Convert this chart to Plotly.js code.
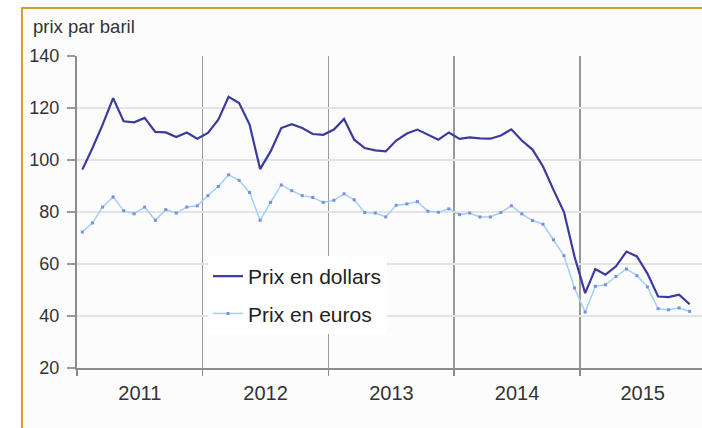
<!DOCTYPE html>
<html>
<head>
<meta charset="utf-8">
<script src="https://cdn.plot.ly/plotly-3.0.1.min.js"></script>
<style>
  html, body { margin: 0; padding: 0; background: #ffffff; }
  #wrap { position: relative; width: 702px; height: 428px; overflow: hidden; }
  #frame { position: absolute; left: 21px; top: 7px; width: 800px; height: 500px;
           border-left: 2px solid #cfa32a; border-top: 2px solid #cfa32a; background: #fcfcfc; }
  #chart { position: absolute; left: 0; top: 0; width: 702px; height: 428px; }
</style>
</head>
<body>
<div id="wrap">
  <div id="frame"></div>
  <div id="chart"></div>
</div>
<script>
// Months (Jan 2011 .. Nov 2015)
const months = [
  "2011-01","2011-02","2011-03","2011-04","2011-05","2011-06","2011-07","2011-08","2011-09","2011-10","2011-11","2011-12",
  "2012-01","2012-02","2012-03","2012-04","2012-05","2012-06","2012-07","2012-08","2012-09","2012-10","2012-11","2012-12",
  "2013-01","2013-02","2013-03","2013-04","2013-05","2013-06","2013-07","2013-08","2013-09","2013-10","2013-11","2013-12",
  "2014-01","2014-02","2014-03","2014-04","2014-05","2014-06","2014-07","2014-08","2014-09","2014-10","2014-11","2014-12",
  "2015-01","2015-02","2015-03","2015-04","2015-05","2015-06","2015-07","2015-08","2015-09","2015-10","2015-11"
];

// Prix en dollars (par baril)
const prixDollars = [
  96.3, 104.6, 113.6, 123.8, 114.9, 114.5, 116.2, 110.8, 110.6, 108.8, 110.6, 108.2,
  110.4, 115.5, 124.3, 121.9, 113.6, 96.5, 103.3, 112.3, 113.8, 112.3, 110.0, 109.7,
  111.7, 115.8, 107.8, 104.6, 103.7, 103.3, 107.5, 110.2, 111.7, 109.7, 107.8, 110.6,
  108.1, 108.7, 108.3, 108.2, 109.4, 111.8, 107.5, 104.0, 97.5, 88.5, 80.0, 62.9,
  48.8, 58.1, 55.9, 59.1, 64.8, 62.9, 56.3, 47.5, 47.3, 48.2, 44.5
];

// Prix en euros (par baril)
const prixEuros = [
  72.3, 75.8, 81.9, 85.8, 80.5, 79.3, 81.9, 76.8, 80.9, 79.6, 81.9, 82.4,
  86.3, 89.8, 94.3, 92.2, 87.5, 76.8, 83.7, 90.4, 88.2, 86.3, 85.6, 83.7,
  84.5, 87.0, 84.7, 79.8, 79.6, 78.1, 82.6, 83.1, 84.0, 80.3, 79.9, 81.2,
  79.0, 79.6, 78.1, 78.1, 79.8, 82.4, 79.3, 76.7, 75.3, 69.3, 63.2, 50.8,
  41.5, 51.4, 52.0, 55.2, 58.1, 55.5, 51.2, 42.8, 42.4, 43.1, 41.8
];

const seriesNames = ["Prix en dollars", "Prix en euros"];
const yTicks = [20, 40, 60, 80, 100, 120, 140];

const FONT = "Liberation Sans, Arial, sans-serif";

const traces = [
  {
    x: months, y: prixDollars, name: seriesNames[0], type: "scatter", mode: "lines",
    xperiod: "M1", xperiodalignment: "middle",
    line: { color: "#3b3b9e", width: 2.2 },
    legendgroup: "a"
  },
  {
    x: months, y: prixEuros, name: seriesNames[1], type: "scatter", mode: "lines+markers",
    xperiod: "M1", xperiodalignment: "middle",
    line: { color: "#a3d0f8", width: 1.5 },
    marker: { color: "#7b8fdc", size: 3, symbol: "square" },
    legendgroup: "b"
  }
];

const layout = {
  width: 702, height: 428,
  margin: { l: 77, r: 0, t: 56, b: 60, pad: 0 },
  paper_bgcolor: "rgba(0,0,0,0)",
  plot_bgcolor: "rgba(0,0,0,0)",
  font: { family: FONT, color: "#333333" },
  title: {
    text: "prix par baril",
    font: { family: FONT, size: 18.5, color: "#333333" },
    x: 33 / 702, xanchor: "left", xref: "container",
    y: 1 - 27 / 428, yanchor: "middle", yref: "container"
  },
  xaxis: {
    type: "date",
    range: ["2011-01-01", "2015-12-22"],
    tick0: "2011-01-01", dtick: "M12",
    ticklabelmode: "period",
    tickformat: "%Y",
    ticks: "outside", ticklen: 6, tickwidth: 1.5, tickcolor: "#8c8c8c",
    showgrid: true, gridcolor: "#999999", gridwidth: 1.5,
    showline: true, linecolor: "#8c8c8c", linewidth: 2,
    tickfont: { family: FONT, size: 20, color: "#333333" },
    zeroline: false, fixedrange: true
  },
  yaxis: {
    range: [20, 140],
    tickvals: yTicks,
    ticks: "outside", ticklen: 8, tickwidth: 1.5, tickcolor: "#9a9a9a",
    ticklabelstandoff: 4,
    showgrid: true, gridcolor: "#e4e4e4", gridwidth: 2,
    showline: true, linecolor: "#8c8c8c", linewidth: 2,
    tickfont: { family: FONT, size: 18, color: "#333333" },
    zeroline: false, fixedrange: true
  },
  showlegend: true,
  legend: {
    x: (208 - 77) / 625, xanchor: "left",
    y: (368 - 256) / 312, yanchor: "top",
    bgcolor: "#ffffff", borderwidth: 0,
    font: { family: FONT, size: 21, color: "#222222" },
    traceorder: "grouped", tracegroupgap: 7,
    itemwidth: 30
  }
};

Plotly.newPlot("chart", traces, layout, { displayModeBar: false, staticPlot: true });
</script>
</body>
</html>
